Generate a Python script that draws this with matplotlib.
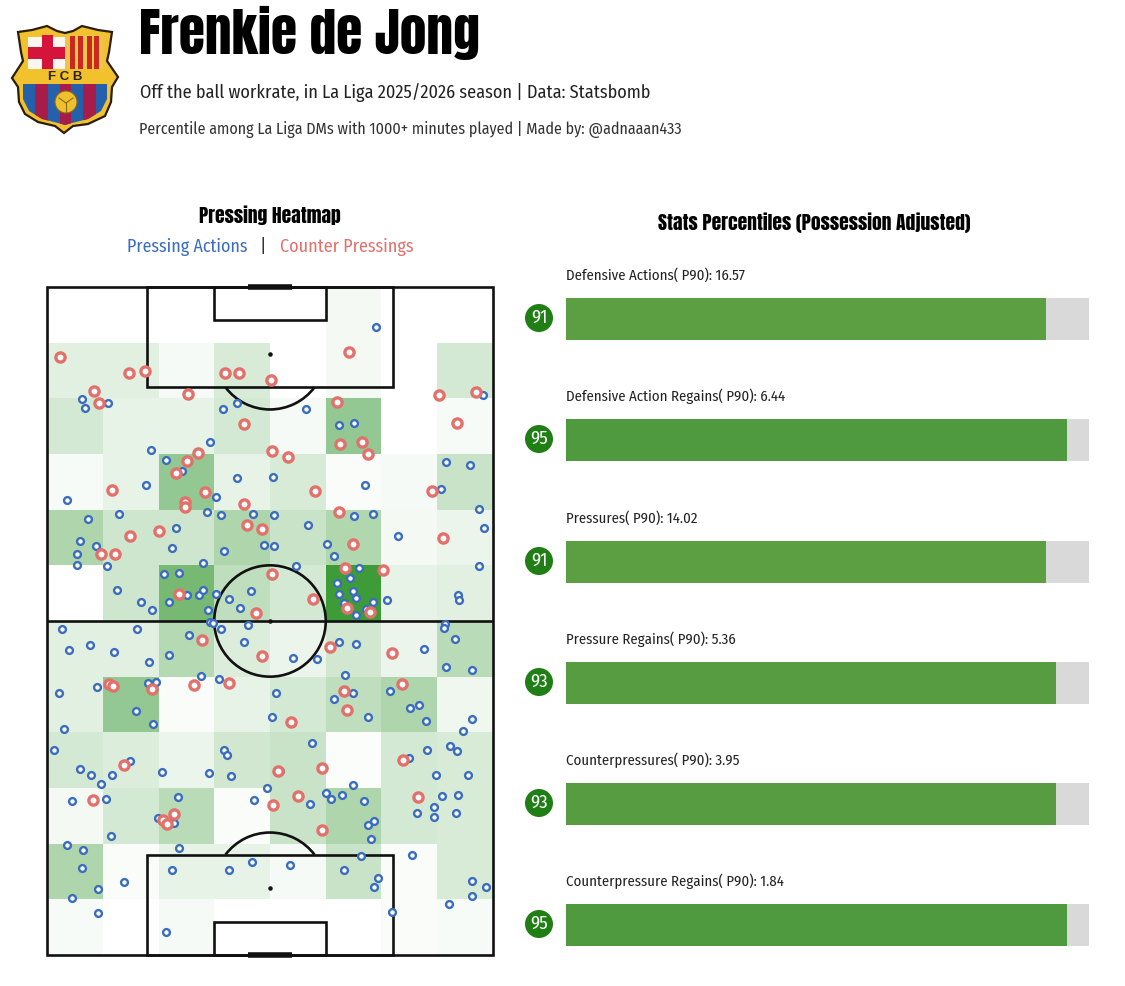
from __future__ import annotations

import matplotlib
matplotlib.use("Agg")
import matplotlib.pyplot as plt
import numpy as np
from matplotlib.colors import LinearSegmentedColormap
from matplotlib.patches import Arc, Circle, Polygon, Rectangle

# percentile bars
STAT_LABELS = [
    "Defensive Actions( P90): 16.57",
    "Defensive Action Regains( P90): 6.44",
    "Pressures( P90): 14.02",
    "Pressure Regains( P90): 5.36",
    "Counterpressures( P90): 3.95",
    "Counterpressure Regains( P90): 1.84",
]
PERCENTILES = [91, 95, 91, 93, 93, 95]

# heatmap cells, top row of the picture first, 8 columns by 12 rows
HEAT = [
    [0.00, 0.00, 0.00, 0.00, 0.00, 0.06, 0.00, 0.00],
    [0.15, 0.15, 0.05, 0.20, 0.00, 0.06, 0.00, 0.22],
    [0.22, 0.12, 0.12, 0.22, 0.05, 0.55, 0.00, 0.04],
    [0.04, 0.12, 0.55, 0.12, 0.20, 0.03, 0.05, 0.28],
    [0.42, 0.25, 0.25, 0.42, 0.28, 0.40, 0.06, 0.10],
    [0.00, 0.25, 0.70, 0.33, 0.22, 1.00, 0.12, 0.15],
    [0.15, 0.15, 0.38, 0.18, 0.10, 0.24, 0.10, 0.36],
    [0.15, 0.55, 0.03, 0.12, 0.22, 0.33, 0.42, 0.08],
    [0.22, 0.18, 0.10, 0.24, 0.28, 0.02, 0.22, 0.20],
    [0.06, 0.22, 0.36, 0.03, 0.28, 0.42, 0.22, 0.20],
    [0.42, 0.03, 0.12, 0.12, 0.05, 0.28, 0.03, 0.20],
    [0.04, 0.00, 0.05, 0.00, 0.00, 0.00, 0.03, 0.04],
]

# pressing actions, pitch coordinates
PRESS_X = [
    6.2, 6.9, 10.9, 18.6, 21.3, 24.3, 29.2, 31.5, 34.1, 34.0, 17.8, 3.6, 12.9, 7.4, 6.0, 8.7, 5.3, 5.3, 10.8, 23.2,
    22.5, 28.7, 31.2, 30.3, 37.0, 31.8, 28.0, 39.0, 20.9, 23.6, 12.5, 16.8, 18.9, 21.8, 25.2, 27.2, 28.0, 30.3, 32.6, 34.6,
    36.6, 28.9,
    59.1, 46.5, 52.4, 55.0, 40.5, 57.0, 71.5, 75.9, 70.7, 77.4, 78.4, 40.8, 46.8, 55.1, 58.4, 62.9, 40.8, 50.3, 51.4, 44.7,
    56.0, 77.5, 78.2, 54.4, 52.0, 54.8, 52.3, 55.5, 58.5, 61.0, 53.2, 57.2, 55.4, 73.7, 73.9,
    2.7, 16.1, 3.9, 7.7, 12.0, 18.3, 21.8, 25.5, 29.2, 29.8, 31.2, 36.0, 35.3, 2.2, 8.9, 18.1, 19.5, 27.7, 30.9, 16.0,
    19.0, 3.1, 1.2, 31.7, 32.2, 6.0, 7.9, 11.6, 14.9, 20.6, 29.0, 33.0, 9.7, 4.5, 10.5, 23.5, 39.4, 37.1, 19.9, 22.8,
    11.5, 3.5, 6.5, 23.7, 6.2, 22.4, 32.7, 36.8, 13.9, 9.1, 4.4, 9.2, 21.3,
    71.4, 71.3, 52.3, 55.4, 73.2, 67.7, 44.1, 48.5, 71.6, 76.2, 53.5, 41.1, 54.9, 51.5, 61.5, 66.7, 65.1, 67.9, 57.5, 40.3,
    76.3, 74.6, 47.5, 72.2, 68.2, 73.6, 64.9, 41.8, 69.7, 75.6, 54.8, 50.0, 50.9, 53.0, 47.2, 56.9, 70.8, 73.7, 69.4, 66.4,
    69.5, 73.3, 58.7, 57.5, 58.2, 56.4, 65.4, 43.5, 53.3, 59.3, 58.7, 76.2, 78.8, 76.3, 72.1, 61.9,
]
PRESS_Y = [
    99.8, 98.3, 99.1, 90.7, 89.0, 87.0, 92.2, 98.0, 99.1, 85.6, 84.4, 81.7, 79.2, 78.3, 74.4, 73.5, 72.0, 70.1, 69.8, 76.7,
    73.1, 79.5, 79.1, 82.2, 79.2, 72.6, 70.5, 73.7, 68.4, 68.7, 65.6, 63.5, 61.9, 63.4, 64.6, 64.6, 65.5, 64.9, 63.9, 62.4,
    65.3, 62.0,
    112.8, 98.0, 95.2, 95.6, 85.9, 84.4, 88.6, 88.0, 83.8, 80.2, 76.7, 79.0, 77.3, 78.8, 79.2, 75.2, 73.4, 73.8, 71.6, 69.8,
    69.6, 69.8, 100.6, 67.7, 66.8, 65.3, 64.8, 64.1, 63.5, 63.8, 63.2, 62.1, 61.1, 64.7, 63.8,
    58.5, 58.5, 54.8, 55.7, 54.4, 52.7, 53.9, 57.5, 59.8, 59.6, 58.5, 59.3, 56.3, 47.0, 48.1, 48.8, 49.1, 50.1, 49.6, 43.8,
    41.5, 40.6, 36.9, 36.9, 36.0, 33.4, 32.3, 32.4, 34.8, 32.9, 32.7, 32.2, 30.7, 27.6, 28.0, 28.3, 30.0, 27.9, 24.6, 23.7,
    21.3, 19.7, 18.9, 19.3, 15.7, 15.3, 15.3, 16.7, 13.1, 11.8, 10.3, 7.5, 4.2,
    59.5, 58.7, 56.3, 55.8, 56.8, 55.0, 53.4, 53.2, 51.8, 51.2, 50.3, 47.0, 47.0, 46.0, 47.5, 44.9, 44.3, 42.0, 42.7, 42.7,
    42.4, 40.3, 38.1, 37.5, 36.8, 36.6, 35.3, 33.1, 32.4, 32.4, 30.5, 29.1, 28.1, 28.8, 27.2, 27.6, 28.5, 28.7, 26.6, 25.5,
    24.8, 25.5, 24.0, 23.4, 20.8, 17.8, 18.0, 16.1, 15.2, 13.9, 12.2, 13.3, 12.2, 10.6, 9.1, 7.8,
]

# counter pressings, pitch coordinates
COUNTER_X = [
    2.3, 14.7, 17.6, 8.4, 9.3, 25.3, 31.9, 34.4, 35.3, 27.1, 25.1, 23.2, 11.7, 28.3, 24.8, 24.7, 35.3, 35.8, 38.6, 14.9,
    20.1, 9.6, 12.2, 23.6, 37.4,
    54.1, 40.2, 52.1, 70.3, 76.9, 73.5, 52.6, 56.5, 57.5, 40.3, 43.3, 48.1, 69.1, 52.4, 54.9, 71.0, 53.5, 60.2, 40.3, 47.7,
    53.8, 58.0,
    27.8, 38.6, 11.2, 11.8, 18.9, 26.3, 32.7, 13.9, 8.2, 22.7, 20.8, 21.5,
    50.8, 61.8, 63.7, 53.2, 53.8, 43.8, 63.8, 41.4, 49.4, 45.0, 40.6, 66.5, 49.4,
]
COUNTER_Y = [
    107.5, 104.6, 104.9, 101.4, 99.1, 100.7, 104.6, 104.6, 95.4, 90.2, 88.8, 86.5, 83.5, 83.2, 81.4, 80.4, 81.1, 77.2, 76.5, 75.2,
    76.1, 72.0, 72.0, 64.9, 61.5,
    108.3, 103.3, 99.3, 100.6, 101.2, 95.5, 91.8, 92.2, 90.0, 90.6, 89.4, 83.3, 83.3, 79.5, 73.9, 75.0, 69.6, 69.2, 68.4, 63.9,
    62.3, 61.7,
    56.6, 53.8, 48.7, 48.4, 47.7, 48.5, 48.8, 34.2, 27.8, 25.4, 24.3, 23.6,
    55.4, 54.2, 48.7, 47.5, 44.1, 41.9, 35.1, 33.1, 33.6, 28.6, 27.0, 28.3, 22.4,
]

W, H = 1125, 987
BLUE = "#3a6dbd"
RED = "#e2716c"
LINE = "#111111"
BODY = ["Fira Sans Condensed", "Noto Sans", "DejaVu Sans"]
HEAD = ["Anton", "Liberation Sans", "DejaVu Sans"]

fig = plt.figure(figsize=(W / 100, H / 100), dpi=100, facecolor="white")


def pixel_axes(left: float, top: float, width: float, height: float):
    return fig.add_axes([left / W, 1 - (top + height) / H, width / W, height / H])


def draw_pitch(ax) -> None:
    lw = 1.9
    ax.add_patch(Rectangle((0, 0), 80, 120, fill=False, ec=LINE, lw=lw, zorder=3, clip_on=False))
    ax.plot([0, 80], [60, 60], color=LINE, lw=lw, zorder=3)
    ax.add_patch(Circle((40, 60), 10, fill=False, ec=LINE, lw=lw, zorder=3))
    ax.scatter([40, 40, 40], [60, 12, 108], s=5, color=LINE, zorder=3)
    for goal_y, sign in [(120, -1), (0, 1)]:
        ax.add_patch(Rectangle((18, goal_y), 44, sign * 18, fill=False, ec=LINE, lw=lw, zorder=3, clip_on=False))
        ax.add_patch(Rectangle((30, goal_y), 20, sign * 6, fill=False, ec=LINE, lw=lw, zorder=3, clip_on=False))
        ax.plot([36, 44], [goal_y, goal_y], color=LINE, lw=4, solid_capstyle="butt", zorder=3, clip_on=False)
        mid = 90 if sign > 0 else 270
        ax.add_patch(
            Arc((40, goal_y + sign * 12), 20, 20, angle=0, theta1=mid - 53, theta2=mid + 53, ec=LINE, lw=lw, zorder=3)
        )


def draw_crest(ax) -> None:
    outline = [
        (18, 33), (32, 31), (47, 27), (57, 32), (65, 34), (73, 32), (82, 27), (98, 31), (112, 33), (109, 53), (107, 62),
        (118, 78), (112, 88), (111, 103), (105, 117), (88, 125), (73, 127), (64, 134), (55, 127), (38, 123), (25, 115),
        (19, 103), (18, 88), (12, 79), (23, 62), (21, 53),
    ]
    ax.add_patch(Polygon(outline, closed=True, fc="#f2c12e", ec="#2b1d08", lw=1.6, zorder=1))
    # top quarters
    ax.add_patch(Rectangle((28, 38), 37, 32, fc="#fbf6f0", zorder=2))
    ax.add_patch(Rectangle((42, 36), 11, 34, fc="#d5143c", zorder=3))
    ax.add_patch(Rectangle((28, 48), 37, 12, fc="#d5143c", zorder=3))
    ax.add_patch(Rectangle((65, 36), 38, 34, fc="#f0c44a", zorder=2))
    for sx in [70, 78, 87, 94]:
        ax.add_patch(Rectangle((sx, 37), 4.5, 33, fc="#c9291f", zorder=3))
    ax.text(65.5, 77.5, "F C B", ha="center", va="center", fontsize=9.5, fontweight="bold", color="#2e220c",
            family="Liberation Sans", zorder=4)
    # lower stripes, clipped to the shield
    lower = Polygon(
        [(23, 85), (107, 85), (107, 100), (101, 112), (88, 120), (72, 124), (65, 126), (58, 124), (42, 120), (29, 112), (23, 100)],
        closed=True, fc="#2460ab", ec="none", zorder=2,
    )
    ax.add_patch(lower)
    for sx, sw in [(35, 13), (60, 11), (83, 13)]:
        stripe = Rectangle((sx, 85), sw, 42, fc="#a81c4a", zorder=3)
        ax.add_patch(stripe)
        stripe.set_clip_path(lower)
    ax.add_patch(Circle((66, 103), 11, fc="#efc02e", ec="#8a6a14", lw=0.8, zorder=4))
    ax.plot([59, 66, 73], [99, 104, 99], color="#8a6a14", lw=0.8, zorder=5)
    ax.plot([66, 66], [104, 113], color="#8a6a14", lw=0.8, zorder=5)


# overlay in picture pixels for the header text and the crest
over = pixel_axes(0, 0, W, H)
over.set_xlim(0, W)
over.set_ylim(H, 0)
over.set_aspect("equal")
over.axis("off")
draw_crest(over)


def put(x, y, s, size, color="#1a1a1a", ha="left", family=None):
    over.text(x, y, s, fontsize=size, color=color, ha=ha, va="center", family=family or BODY, fontweight=400)


put(139, 33, "Frenkie de Jong", 38.5, color="black", family=HEAD)
put(140, 92, "Off the ball workrate, in La Liga 2025/2026 season | Data: Statsbomb", 13.1, color="#222222")
put(139, 130, "Percentile among La Liga DMs with 1000+ minutes played | Made by: @adnaaan433", 11.5, color="#333333")

put(270, 215, "Pressing Heatmap", 14, color="black", ha="center", family=HEAD)
put(814, 223, "Stats Percentiles (Possession Adjusted)", 14, color="black", ha="center", family=HEAD)
put(127, 247, "Pressing Actions", 12.9, color=BLUE)
put(263, 247, "|", 13, color="#333333", ha="center")
put(280, 247, "Counter Pressings", 13, color=RED)

# pitch
pitch = pixel_axes(47, 288, 446, 668)
pitch.set_xlim(0, 80)
pitch.set_ylim(0, 120)
pitch.axis("off")
heat_cmap = LinearSegmentedColormap.from_list("heat", ["#ffffff", "#3d9b38"])
pitch.pcolormesh(np.arange(0, 81, 10), np.arange(120, -1, -10), np.array(HEAT), cmap=heat_cmap, vmin=0, vmax=1,
                 zorder=1, edgecolors="none")
draw_pitch(pitch)
pitch.scatter(PRESS_X, PRESS_Y, s=24, facecolor="white", edgecolor=BLUE, linewidth=1.7, zorder=4, clip_on=False)
pitch.scatter(COUNTER_X, COUNTER_Y, s=44, facecolor="white", edgecolor=RED, linewidth=2.4, zorder=5, clip_on=False)

# percentile bars, one small axes per stat
bar_tops = [298, 419, 541, 662, 783, 904]
for label, pct, top in zip(STAT_LABELS, PERCENTILES, bar_tops):
    ax = pixel_axes(566, top + 1, 523, 42)
    ax.set_xlim(0, 99.2)
    ax.set_ylim(0, 1)
    ax.axis("off")
    bar_color = {91: "#5c9e42", 93: "#579c41", 95: "#4f9a3e"}[pct]
    ax.barh(0.5, 100, height=1, color="#d9d9d9")
    ax.barh(0.5, pct, height=1, color=bar_color)
    put(566, top - 23, label, 10.7, color="#222222")
    over.add_patch(Circle((539, top + 21), 14, fc="#1f7f14", ec="none", zorder=3))
    put(539, top + 20, str(pct), 13.5, color="white", ha="center")

fig.savefig("out.png", dpi=100, facecolor="white")
